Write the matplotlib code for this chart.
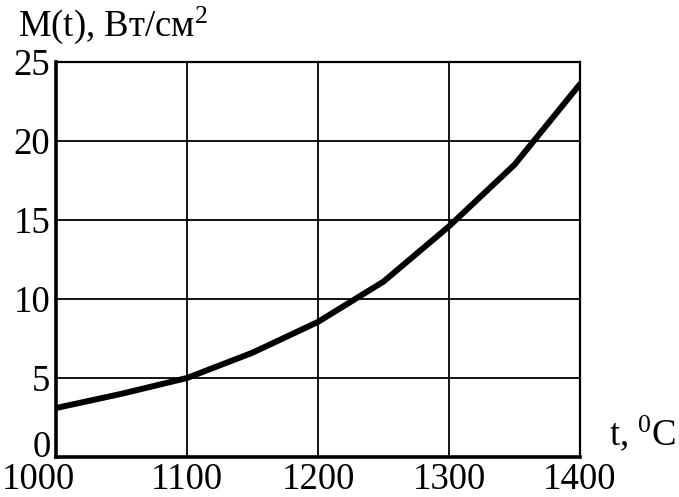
import matplotlib
matplotlib.use("Agg")
import matplotlib.pyplot as plt
from matplotlib.transforms import ScaledTranslation

# Temperature, deg C and M(t), W/cm^2
temperature = [1000, 1050, 1100, 1150, 1200, 1250, 1300, 1350, 1400]
power = [3.1, 4.0, 5.0, 6.6, 8.55, 11.1, 14.6, 18.5, 23.6]

x_ticks = [1000, 1100, 1200, 1300, 1400]
y_ticks = [0, 5, 10, 15, 20, 25]

plt.rcParams["font.family"] = ["Liberation Serif", "DejaVu Serif"]
plt.rcParams["mathtext.fontset"] = "custom"
plt.rcParams["mathtext.rm"] = "Liberation Serif"
plt.rcParams["mathtext.it"] = "Liberation Serif"

FONT_SIZE = 26.5

fig = plt.figure(figsize=(6.79, 4.97), dpi=100)
ax = fig.add_axes([56 / 679, 40 / 497, 524 / 679, 395 / 497])

ax.plot(temperature, power, color="black", lw=4.3, solid_capstyle="round",
        solid_joinstyle="round", zorder=3)

ax.set_xlim(1000, 1400)
ax.set_ylim(0, 25)
ax.set_xticks(x_ticks)
ax.set_yticks(y_ticks)
ax.grid(True, color="black", lw=1.3)
ax.tick_params(length=0, labelsize=FONT_SIZE)
ax.tick_params(axis="x", pad=4)
ax.tick_params(axis="y", pad=4)

for side in ["top", "right"]:
    ax.spines[side].set_linewidth(1.6)
for side in ["bottom", "left"]:
    ax.spines[side].set_linewidth(2.6)

# Nudge the corner labels so "0" and "1000" do not collide
fig.canvas.draw()
ax.get_yticklabels()[0].set_verticalalignment("baseline")
first_x = ax.get_xticklabels()[0]
first_x.set_transform(first_x.get_transform() +
                      ScaledTranslation(-0.18, 0, fig.dpi_scale_trans))

fig.text(18 / 679, 1 - 36 / 497, "M(t), Вт/см$^2$", fontsize=FONT_SIZE,
         ha="left", va="baseline")
fig.text(609 / 679, 1 - 445 / 497, "t, $^0$C", fontsize=FONT_SIZE,
         ha="left", va="baseline")

fig.savefig("out.png", dpi=100)
